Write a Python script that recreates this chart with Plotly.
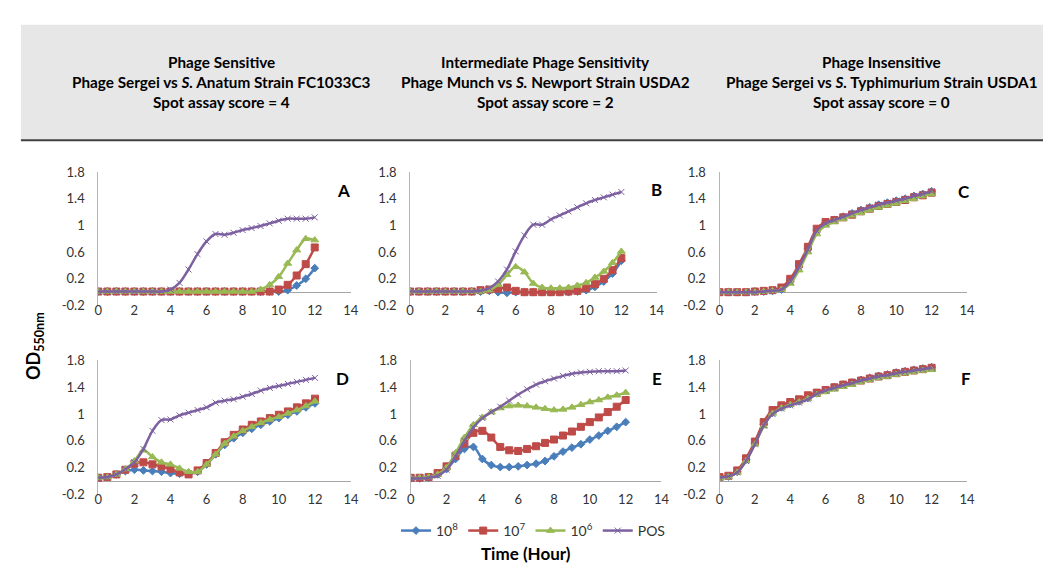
import plotly.graph_objects as go

W, H = 1051, 564

hours = [i * 0.5 for i in range(25)]

series_names = ["10<sup>8</sup>", "10<sup>7</sup>", "10<sup>6</sup>", "POS"]

# Panel A
a_1e8 = [0.01]*21 + [0.03, 0.10, 0.20, 0.36]
a_1e7 = [0.01]*19 + [0.01, 0.04, 0.11, 0.25, 0.42, 0.67]
a_1e6 = [0.01]*17 + [0.01, 0.04, 0.11, 0.23, 0.43, 0.63, 0.80, 0.78]
a_pos = [0.01]*8 + [0.04, 0.14, 0.34, 0.57, 0.76, 0.87, 0.86, 0.89, 0.93, 0.96, 0.99, 1.03, 1.07, 1.10, 1.10, 1.10, 1.12]

# Panel B
b_1e8 = [0.01]*9 + [0.02, 0.0, -0.01, 0.0, 0.0, 0.0, 0.0, 0.0, 0.0, 0.0, 0.01, 0.03, 0.08, 0.16, 0.28, 0.47]
b_1e7 = [0.01]*8 + [0.03, 0.04, 0.05, 0.07, 0.02, 0.0, 0.0, 0.0, 0.0, 0.0, 0.01, 0.02, 0.06, 0.12, 0.20, 0.33, 0.51]
b_1e6 = [0.01]*9 + [0.03, 0.11, 0.26, 0.38, 0.30, 0.13, 0.07, 0.06, 0.06, 0.07, 0.10, 0.14, 0.22, 0.31, 0.44, 0.61]
b_pos = [0.01]*8 + [0.02, 0.06, 0.16, 0.34, 0.61, 0.85, 1.01, 1.01, 1.09, 1.15, 1.21, 1.27, 1.33, 1.38, 1.42, 1.46, 1.50]

# Panel C
c_1e8 = [0.0, 0.0, 0.0, 0.0, 0.01, 0.01, 0.02, 0.04, 0.17, 0.39, 0.65, 0.93, 1.04, 1.08, 1.13, 1.18, 1.23, 1.27, 1.31, 1.34, 1.37, 1.40, 1.44, 1.47, 1.51]
c_1e7 = [0.0, 0.0, 0.0, 0.0, 0.01, 0.02, 0.03, 0.07, 0.20, 0.42, 0.68, 0.95, 1.05, 1.08, 1.12, 1.16, 1.21, 1.25, 1.29, 1.32, 1.35, 1.38, 1.42, 1.45, 1.49]
c_1e6 = [0.0, 0.0, 0.0, 0.0, 0.0, 0.01, 0.02, 0.04, 0.13, 0.33, 0.60, 0.87, 1.00, 1.05, 1.10, 1.15, 1.19, 1.23, 1.27, 1.30, 1.33, 1.37, 1.40, 1.44, 1.47]
c_pos = [0.0, 0.0, 0.0, 0.0, 0.0, 0.01, 0.02, 0.04, 0.16, 0.38, 0.64, 0.92, 1.03, 1.08, 1.13, 1.18, 1.23, 1.27, 1.31, 1.34, 1.37, 1.40, 1.44, 1.47, 1.51]

# Panel D
d_1e8 = [0.05, 0.06, 0.10, 0.15, 0.17, 0.16, 0.15, 0.14, 0.12, 0.11, 0.11, 0.14, 0.25, 0.40, 0.54, 0.64, 0.72, 0.78, 0.84, 0.89, 0.94, 0.99, 1.04, 1.10, 1.16]
d_1e7 = [0.05, 0.06, 0.10, 0.17, 0.26, 0.28, 0.25, 0.22, 0.18, 0.13, 0.10, 0.16, 0.27, 0.42, 0.58, 0.69, 0.77, 0.84, 0.89, 0.94, 0.99, 1.04, 1.10, 1.16, 1.23]
d_1e6 = [0.05, 0.06, 0.10, 0.18, 0.30, 0.46, 0.36, 0.28, 0.25, 0.19, 0.14, 0.14, 0.25, 0.40, 0.56, 0.67, 0.75, 0.81, 0.87, 0.92, 0.96, 1.01, 1.06, 1.12, 1.19]
d_pos = [0.05, 0.06, 0.10, 0.18, 0.28, 0.48, 0.75, 0.91, 0.92, 0.98, 1.02, 1.06, 1.10, 1.17, 1.20, 1.22, 1.26, 1.30, 1.35, 1.39, 1.42, 1.45, 1.48, 1.51, 1.54]

# Panel E
e_1e8 = [0.04, 0.04, 0.05, 0.10, 0.18, 0.33, 0.48, 0.51, 0.33, 0.24, 0.21, 0.21, 0.22, 0.24, 0.26, 0.30, 0.37, 0.44, 0.50, 0.55, 0.62, 0.68, 0.75, 0.81, 0.88]
e_1e7 = [0.05, 0.05, 0.06, 0.12, 0.22, 0.38, 0.56, 0.72, 0.75, 0.65, 0.51, 0.46, 0.45, 0.48, 0.52, 0.57, 0.62, 0.68, 0.74, 0.81, 0.88, 0.95, 1.03, 1.11, 1.21]
e_1e6 = [0.05, 0.05, 0.06, 0.10, 0.20, 0.42, 0.65, 0.84, 0.95, 1.03, 1.09, 1.12, 1.13, 1.12, 1.10, 1.08, 1.06, 1.07, 1.10, 1.14, 1.18, 1.21, 1.25, 1.28, 1.32]
e_pos = [0.04, 0.04, 0.05, 0.08, 0.17, 0.37, 0.60, 0.80, 0.94, 1.03, 1.11, 1.20, 1.29, 1.37, 1.44, 1.49, 1.53, 1.57, 1.60, 1.62, 1.63, 1.64, 1.64, 1.64, 1.65]

# Panel F
f_1e8 = [0.05, 0.07, 0.14, 0.32, 0.57, 0.85, 1.02, 1.10, 1.15, 1.19, 1.24, 1.31, 1.36, 1.40, 1.44, 1.47, 1.51, 1.54, 1.57, 1.59, 1.62, 1.64, 1.66, 1.68, 1.70]
f_1e7 = [0.06, 0.08, 0.16, 0.34, 0.59, 0.88, 1.06, 1.13, 1.18, 1.22, 1.28, 1.32, 1.36, 1.40, 1.44, 1.47, 1.50, 1.53, 1.56, 1.58, 1.61, 1.63, 1.65, 1.67, 1.69]
f_1e6 = [0.04, 0.06, 0.13, 0.30, 0.55, 0.82, 1.01, 1.09, 1.14, 1.18, 1.23, 1.29, 1.33, 1.37, 1.41, 1.44, 1.48, 1.51, 1.54, 1.56, 1.59, 1.61, 1.63, 1.65, 1.66]
f_pos = [0.05, 0.07, 0.13, 0.30, 0.55, 0.83, 1.00, 1.08, 1.13, 1.17, 1.22, 1.30, 1.35, 1.39, 1.43, 1.46, 1.50, 1.53, 1.56, 1.58, 1.61, 1.63, 1.65, 1.67, 1.69]

panels = [
    ("A", [a_1e8, a_1e7, a_1e6, a_pos]),
    ("B", [b_1e8, b_1e7, b_1e6, b_pos]),
    ("C", [c_1e8, c_1e7, c_1e6, c_pos]),
    ("D", [d_1e8, d_1e7, d_1e6, d_pos]),
    ("E", [e_1e8, e_1e7, e_1e6, e_pos]),
    ("F", [f_1e8, f_1e7, f_1e6, f_pos]),
]

x_ticks = [0, 2, 4, 6, 8, 10, 12, 14]
y_ticks = [-0.2, 0.2, 0.6, 1.0, 1.4, 1.8]
y_tick_text = ["-0.2", "0.2", "0.6", "1", "1.4", "1.8"]

column_titles = [
    ["Phage Sensitive", "Phage Sergei vs <i>S.</i> Anatum Strain FC1033C3", "Spot assay score = 4"],
    ["Intermediate Phage Sensitivity", "Phage Munch vs <i>S.</i> Newport Strain USDA2", "Spot assay score = 2"],
    ["Phage Insensitive", "Phage Sergei vs <i>S.</i> Typhimurium Strain USDA1", "Spot assay score = 0"],
]

colors = ["#4a7ebb", "#be4b48", "#98b954", "#7d60a0"]
symbols = ["diamond", "square", "triangle-up", "x-thin"]
msizes = [6, 7, 7, 6]

FONT = "Lato"

# layout geometry (pixels)
x_px = [(87.3, 342.7), (402.7, 652.0), (715.7, 966.0),
        (87.3, 343.0), (403.3, 657.0), (715.7, 966.0)]
y_px = [(160.5, 298.0)] * 3 + [(354.5, 492.5)] * 3
letter_px = [(335, 180), (652, 179), (963, 181), (334, 373), (652, 373), (965, 373)]

fig = go.Figure()
layout = {}
annotations = []

for i, (letter, data) in enumerate(panels):
    n = i + 1
    xa = "x" if n == 1 else f"x{n}"
    ya = "y" if n == 1 else f"y{n}"
    for s in range(4):
        fig.add_trace(go.Scatter(
            x=hours, y=data[s], xaxis=xa, yaxis=ya,
            mode="lines+markers", line_shape="spline",
            line=dict(color=colors[s], width=2.5),
            marker=dict(symbol=symbols[s], size=msizes[s], color=colors[s],
                        line=dict(color=colors[s], width=1)),
            name=series_names[s], legendgroup=series_names[s],
            showlegend=(i == 0),
        ))
    x0, x1 = x_px[i]
    yt, yb = y_px[i]
    layout["xaxis" if n == 1 else f"xaxis{n}"] = dict(
        domain=[x0 / W, x1 / W], range=[0, 14], tickvals=x_ticks,
        showgrid=False, zeroline=False, showline=False, ticks="",
        tickfont=dict(family=FONT, size=13, color="#333"),
        anchor="free", position=1 - (yb - 5) / H, fixedrange=True,
    )
    layout["yaxis" if n == 1 else f"yaxis{n}"] = dict(
        domain=[1 - yb / H, 1 - yt / H], range=[-0.2, 1.8],
        tickvals=y_ticks, ticktext=y_tick_text,
        showgrid=False, zeroline=True, zerolinecolor="#a6a6a6", zerolinewidth=1,
        showline=True, linecolor="#b5b5b5", linewidth=1, ticks="",
        ticklabelstandoff=10,
        tickfont=dict(family=FONT, size=13, color="#333"),
        anchor=xa, fixedrange=True,
    )
    lx, ly = letter_px[i]
    annotations.append(dict(
        text=f"<b>{letter}</b>", x=lx / W, y=1 - ly / H, xref="paper", yref="paper",
        showarrow=False, font=dict(family=FONT, size=17, color="black"),
        xanchor="center", yanchor="middle",
    ))

title_x = [212, 540, 880]
title_y = [47, 68, 89]
for lines, cx in zip(column_titles, title_x):
    for line, ly in zip(lines, title_y):
        annotations.append(dict(
            text=f"<b>{line}</b>", x=cx / W, y=1 - ly / H, xref="paper", yref="paper",
            showarrow=False, align="center",
            font=dict(family=FONT, size=15.3, color="black"),
            xanchor="center", yanchor="middle",
        ))

annotations.append(dict(
    text="<b>OD<sub>550nm</sub></b>", x=23 / W, y=1 - 340 / H, xref="paper", yref="paper",
    showarrow=False, textangle=-90, font=dict(family=FONT, size=18, color="black"),
    xanchor="center", yanchor="middle",
))
annotations.append(dict(
    text="<b>Time (Hour)</b>", x=520 / W, y=1 - 553 / H, xref="paper", yref="paper",
    showarrow=False, font=dict(family=FONT, size=17, color="black"),
    xanchor="center", yanchor="middle",
))

shapes = [
    dict(type="rect", xref="paper", yref="paper", x0=9 / W, x1=1, y0=1 - 128 / H, y1=1 - 9 / H,
         fillcolor="#e7e7e7", line=dict(width=0), layer="below"),
    dict(type="line", xref="paper", yref="paper", x0=9 / W, x1=1, y0=1 - 128 / H, y1=1 - 128 / H,
         line=dict(color="#404040", width=2)),
]

fig.update_layout(
    width=W, height=H, margin=dict(l=0, r=0, t=0, b=0),
    paper_bgcolor="white", plot_bgcolor="rgba(0,0,0,0)",
    font=dict(family=FONT, size=13, color="#333"),
    showlegend=True,
    legend=dict(orientation="h", x=527 / W, xanchor="center", y=1 - 530 / H, yanchor="middle",
                font=dict(family=FONT, size=14, color="#333"), itemwidth=30,
                bgcolor="rgba(0,0,0,0)", tracegroupgap=0),
    annotations=annotations, shapes=shapes,
    **layout,
)

fig.write_html("out.html")
